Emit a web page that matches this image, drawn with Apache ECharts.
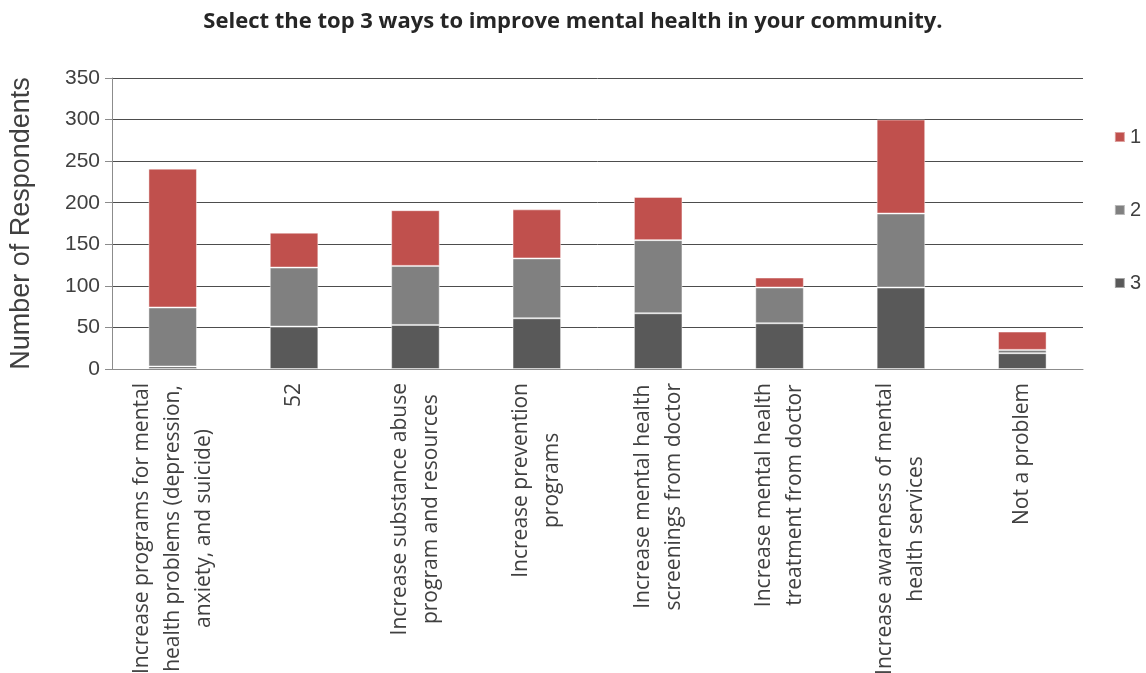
<!DOCTYPE html>
<html>
<head>
<meta charset="utf-8">
<script src="https://cdn.jsdelivr.net/npm/echarts@6/dist/echarts.min.js"></script>
<style>
html, body { margin: 0; padding: 0; background: #fff; }
#chart { width: 1146px; height: 673px; }
</style>
</head>
<body>
<div id="chart"></div>
<script>
var categories = [
    'Increase programs for mental\nhealth problems (depression,\nanxiety, and suicide)',
    '52',
    'Increase substance abuse\nprogram and resources',
    'Increase prevention\nprograms',
    'Increase mental health\nscreenings from doctor',
    'Increase mental health\ntreatment from doctor',
    'Increase awareness of mental\nhealth services',
    'Not a problem'
];
// stacked from the bottom: 3, then 2, then 1 on top
var rank3 = [3, 51, 53, 61, 67, 55, 98, 19];
var rank2 = [71, 71, 71, 72, 88, 43, 89, 4];
var rank1 = [167, 42, 67, 59, 52, 12, 113, 22];

var myChart = echarts.init(document.getElementById('chart'));

function seg(name, data, color) {
    return {
        name: name,
        type: 'bar',
        stack: 'total',
        barWidth: '40%',
        data: data,
        itemStyle: { color: color, borderColor: 'rgba(255,255,255,0.45)', borderWidth: 1 }
    };
}

var option = {
    animation: false,
    title: {
        text: 'Select the top 3 ways to improve mental health in your community.',
        left: 'center',
        top: 6,
        textStyle: { fontFamily: 'Open Sans', fontWeight: 'bold', fontSize: 22, color: '#262626' }
    },
    legend: {
        orient: 'vertical',
        right: 0,
        top: 122,
        itemGap: 53,
        itemWidth: 10,
        itemHeight: 10,
        icon: 'rect',
        data: ['1', '2', '3'],
        textStyle: { fontFamily: 'Liberation Sans', fontSize: 20, color: '#404040' }
    },
    grid: { left: 112, right: 63, top: 78, bottom: 304, containLabel: false, outerBoundsMode: 'none' },
    xAxis: {
        type: 'category',
        data: categories,
        axisLine: { lineStyle: { color: '#8c8c8c', width: 1 } },
        axisTick: { show: false },
        axisLabel: {
            rotate: 90,
            margin: 14,
            interval: 0,
            color: '#404040',
            fontFamily: 'Open Sans',
            fontSize: 21,
            lineHeight: 31,
            formatter: function (v) {
                return v.split('\n').map(function (l) { return '{c|' + l + '}'; }).join('\n');
            },
            rich: { c: { align: 'center', fontFamily: 'Open Sans', fontSize: 21, lineHeight: 31, color: '#404040' } }
        }
    },
    yAxis: {
        type: 'value',
        min: 0,
        max: 350,
        interval: 50,
        name: 'Number of Respondents',
        nameLocation: 'middle',
        nameGap: 77,
        nameTextStyle: { fontFamily: 'Liberation Sans', fontSize: 27, color: '#404040' },
        axisLine: { show: true, lineStyle: { color: '#8c8c8c' } },
        axisTick: { show: true, length: 7, lineStyle: { color: '#8c8c8c' } },
        axisLabel: { fontFamily: 'Liberation Sans', fontSize: 21, color: '#404040', margin: 12 },
        splitLine: { lineStyle: { color: '#4d4d4d', width: 1 } }
    },
    series: [
        seg('3', rank3, '#595959'),
        seg('2', rank2, '#808080'),
        seg('1', rank1, '#c0504d')
    ]
};

myChart.setOption(option);
</script>
</body>
</html>
